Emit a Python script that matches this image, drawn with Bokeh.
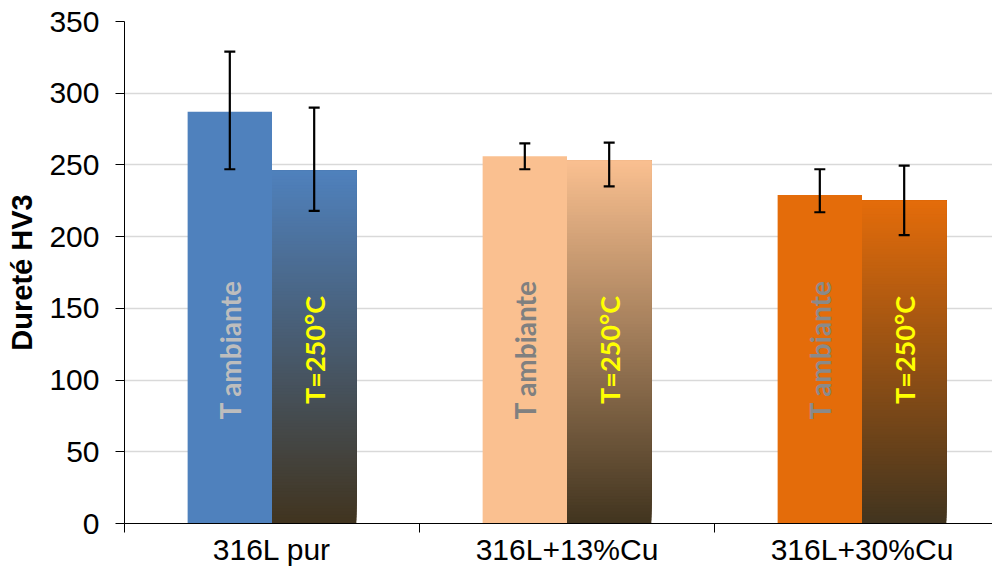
import numpy as np
from bokeh.plotting import figure
from bokeh.models import (Range1d, FixedTicker, ColumnDataSource, Whisker, TeeHead,
                          SingleIntervalTicker)
from bokeh.core.properties import value
from bokeh.embed import file_html
from bokeh.resources import INLINE

# ---------------- data ----------------
categories = ["316L pur", "316L+13%Cu", "316L+30%Cu"]
amb_values = [287, 256, 229]
amb_err_hi = [329, 265, 247]
amb_err_lo = [247, 247, 217]
hot_values = [246, 253, 225]
hot_err_hi = [290, 265.5, 249.5]
hot_err_lo = [218, 235, 201]
bar_colors = ["#4f81bd", "#fac090", "#e46c0a"]
gradient_bottom = "#41341f"
amb_label = "T ambiante"
hot_label = "T=250°C"
amb_label_colors = ["#bdbdbd", "#808080", "#8a8a8a"]
hot_label_color = "#ffff00"
label_level = 121

# ---------------- layout ----------------
W, H = 992, 568
left_border = 124
cat_px = 295.0
frame_w = W - left_border
offset = 0.143
bar_w = 0.286

p = figure(width=W, height=H, output_backend="svg", toolbar_location=None,
           x_range=Range1d(0, frame_w / cat_px), y_range=Range1d(0, 350),
           min_border_left=left_border, min_border_right=0, min_border_top=21,
           min_border_bottom=38)
p.outline_line_color = None
p.background_fill_color = "white"
p.border_fill_color = "white"

# grid
p.xgrid.grid_line_color = None
p.ygrid.grid_line_color = "#d9d9d9"
p.ygrid.grid_line_width = 1.5

# y axis
p.yaxis.ticker = SingleIntervalTicker(interval=50)
p.yaxis.axis_line_color = "black"
p.yaxis.major_tick_line_color = "black"
p.yaxis.major_tick_out = 9
p.yaxis.major_tick_in = 0
p.yaxis.minor_tick_line_color = None
p.yaxis.major_label_text_font = "Liberation Sans"
p.yaxis.major_label_text_font_size = "30px"
p.yaxis.major_label_text_color = "black"
p.yaxis.major_label_standoff = 16
p.yaxis.axis_label = "Dureté HV3"
p.yaxis.axis_label_text_font = "Liberation Sans"
p.yaxis.axis_label_text_font_style = "bold"
p.yaxis.axis_label_text_font_size = "29px"
p.yaxis.axis_label_text_color = "black"
p.yaxis.axis_label_standoff = 8

# x axis
centers = [i + 0.5 for i in range(len(categories))]
p.xaxis.ticker = FixedTicker(ticks=centers, minor_ticks=list(range(len(categories) + 1)))
p.xaxis.major_label_overrides = {c: lab for c, lab in zip(centers, categories)}
p.xaxis.major_tick_line_color = None
p.xaxis.major_tick_out = 0
p.xaxis.major_tick_in = 0
p.xaxis.minor_tick_line_color = "black"
p.xaxis.minor_tick_out = 9
p.xaxis.minor_tick_in = 0
p.xaxis.axis_line_color = "black"
p.xaxis.major_label_text_font = "Liberation Sans"
p.xaxis.major_label_text_font_size = "30px"
p.xaxis.major_label_text_line_height = 0.5
p.xaxis.major_label_text_color = "black"
p.xaxis.major_label_standoff = 0

# ---------------- bars ----------------
amb_x = [c - offset for c in centers]
hot_x = [c + offset for c in centers]

p.vbar(x=amb_x, top=amb_values, width=bar_w, fill_color=bar_colors, line_color=None)


def hex_to_rgb(h):
    h = h.lstrip("#")
    return np.array([int(h[i:i + 2], 16) for i in (0, 2, 4)], dtype=float)


bot_rgb = hex_to_rgb(gradient_bottom)
N = 120
gl, gr, gb, gt, gc = [], [], [], [], []
for x, v, col in zip(hot_x, hot_values, bar_colors):
    top_rgb = hex_to_rgb(col)
    for k in range(N):
        t = (k + 0.5) / N
        rgb = bot_rgb + (top_rgb - bot_rgb) * t
        gl.append(x - bar_w / 2)
        gr.append(x + bar_w / 2)
        gb.append(v * k / N)
        gt.append(v)
        gc.append("#%02x%02x%02x" % tuple(int(round(c)) for c in rgb))
p.quad(left=gl, right=gr, bottom=gb, top=gt, fill_color=gc, line_color=None)

# labels in bars
p.text(x=amb_x, y=[label_level] * 3, text=[amb_label] * 3, angle=np.pi / 2,
       text_align="center", text_baseline="middle", text_color=amb_label_colors,
       text_font=value("Lato"), text_font_style="bold", text_font_size="28px")
p.text(x=hot_x, y=[label_level] * 3, text=[hot_label] * 3, angle=np.pi / 2,
       text_align="center", text_baseline="middle", text_color=hot_label_color,
       text_font=value("Lato"), text_font_style="bold", text_font_size="27px")

# error bars
err_src = ColumnDataSource(data=dict(
    x=amb_x + hot_x,
    hi=amb_err_hi + hot_err_hi,
    lo=amb_err_lo + hot_err_lo,
))
wh = Whisker(base="x", upper="hi", lower="lo", source=err_src, level="overlay",
             line_color="black", line_width=2.2,
             upper_head=TeeHead(size=11, line_color="black", line_width=2.2),
             lower_head=TeeHead(size=11, line_color="black", line_width=2.2))
p.add_layout(wh)

open("out.html", "w").write(file_html(p, INLINE))
